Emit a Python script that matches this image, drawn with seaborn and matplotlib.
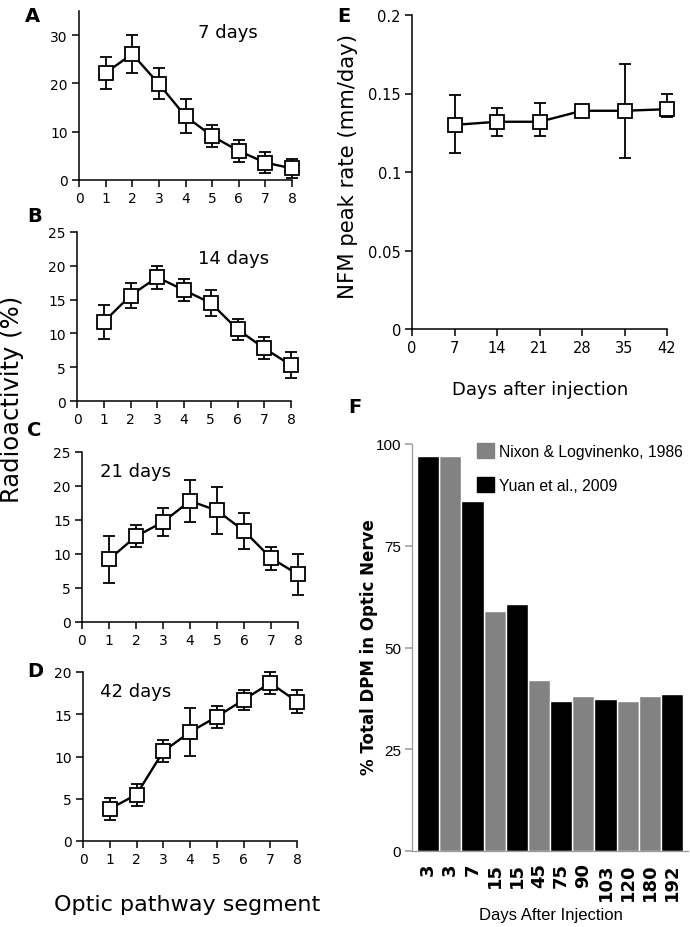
### Radioactivity profiles along the optic pathway (A-D), NFM peak rate (E) and % DPM in optic nerve (F)

import pandas as pd
import seaborn as sns
import matplotlib
matplotlib.use("Agg")
import matplotlib.pyplot as plt
from matplotlib.patches import Patch

# 1. Data

segments = [1, 2, 3, 4, 5, 6, 7, 8]

rad_7d = [22.2, 26.1, 19.9, 13.2, 9.1, 6.0, 3.6, 2.4]
err_7d = [3.3, 4.0, 3.2, 3.5, 2.3, 2.2, 2.2, 2.0]

rad_14d = [11.7, 15.6, 18.3, 16.4, 14.5, 10.6, 7.8, 5.3]
err_14d = [2.5, 1.9, 1.7, 1.6, 1.9, 1.6, 1.6, 1.9]

rad_21d = [9.2, 12.6, 14.7, 17.8, 16.4, 13.4, 9.4, 7.0]
err_21d = [3.4, 1.6, 2.1, 3.1, 3.4, 2.7, 1.7, 3.0]

rad_42d = [3.8, 5.5, 10.6, 12.9, 14.7, 16.7, 18.7, 16.5]
err_42d = [1.3, 1.3, 1.3, 2.8, 1.3, 1.2, 1.3, 1.4]

panel_labels = ["A", "B", "C", "D"]
day_labels = ["7 days", "14 days", "21 days", "42 days"]

days_e = [7, 14, 21, 28, 35, 42]
rate_e = [0.130, 0.132, 0.132, 0.139, 0.139, 0.140]
rate_lo = [0.018, 0.009, 0.009, 0.002, 0.030, 0.005]
rate_hi = [0.019, 0.009, 0.012, 0.002, 0.030, 0.010]

f_days = ["3", "3", "7", "15", "15", "45", "75", "90", "103", "120", "180", "192"]
f_pct = [97.0, 97.0, 86.0, 58.9, 60.7, 42.1, 36.9, 38.1, 37.3, 36.9, 38.1, 38.5]
nixon = "Nixon & Logvinenko, 1986"
yuan = "Yuan et al., 2009"
f_study = [yuan, nixon, yuan, nixon, yuan, nixon, yuan, nixon, yuan, nixon, nixon, yuan]

# 2. Figure setup (pixel based layout, 690 x 928)

sns.set_style("ticks")
plt.rcParams["font.family"] = ["DejaVu Sans"]
plt.rcParams["text.color"] = "black"
plt.rcParams["axes.labelcolor"] = "black"
plt.rcParams["axes.edgecolor"] = "black"
plt.rcParams["xtick.color"] = "black"
plt.rcParams["ytick.color"] = "black"
plt.rcParams["axes.linewidth"] = 1.1
plt.rcParams["xtick.major.width"] = 1.1
plt.rcParams["ytick.major.width"] = 1.1
plt.rcParams["xtick.major.size"] = 5
plt.rcParams["ytick.major.size"] = 5

W, H = 690, 928
fig = plt.figure(figsize=(W / 100, H / 100), dpi=100)


def px_axes(left, top, right, bottom):
    return fig.add_axes([left / W, 1 - bottom / H, (right - left) / W, (bottom - top) / H])


def profile(ax, y, err, ylim, yticks):
    ax.errorbar(segments, y, yerr=err, fmt="none", ecolor="black", elinewidth=1.3,
                capsize=4.5, capthick=1.3, zorder=2, clip_on=False)
    sns.lineplot(x=segments, y=y, ax=ax, color="black", lw=1.7, marker="s", markersize=9.5,
                 markerfacecolor="white", markeredgecolor="black", markeredgewidth=1.3,
                 zorder=3, clip_on=False)
    ax.set_xlim(0, 8)
    ax.set_ylim(*ylim)
    ax.set_xticks(range(9))
    ax.set_yticks(yticks)
    ax.tick_params(labelsize=10, pad=3)
    ax.set_xlabel("")
    ax.set_ylabel("")
    sns.despine(ax=ax)


# 3. Panels A-D
boxes = [(79, 12, 292, 181), (77, 233, 291, 402), (82, 453, 298, 623), (83, 673, 297, 842)]
series = [(rad_7d, err_7d), (rad_14d, err_14d), (rad_21d, err_21d), (rad_42d, err_42d)]
lims = [(0, 35), (0, 25), (0, 25), (0, 20)]
ticks = [[0, 10, 20, 30], [0, 5, 10, 15, 20, 25], [0, 5, 10, 15, 20, 25], [0, 5, 10, 15, 20]]
text_pos = [(0.56, 0.93), (0.565, 0.9), (0.083, 0.94), (0.08, 0.94)]
letter_pos = [(25, 7), (27, 207), (27, 421), (27, 662)]

for box, (y, err), lim, tk, tp, lab, lp, pl in zip(boxes, series, lims, ticks, text_pos,
                                                     day_labels, letter_pos, panel_labels):
    ax = px_axes(*box)
    profile(ax, y, err, lim, tk)
    ax.text(tp[0], tp[1], lab, transform=ax.transAxes, fontsize=13, ha="left", va="top")
    fig.text(lp[0] / W, 1 - lp[1] / H, pl, fontsize=14, fontweight="bold", ha="left", va="top")

fig.text(12 / W, 1 - 399 / H, "Radioactivity (%)", rotation=90, fontsize=17.5,
         ha="center", va="center")
fig.text(187 / W, 1 - 905 / H, "Optic pathway segment", fontsize=16, ha="center", va="center")

# 4. Panel E
ax_e = px_axes(412, 16, 667, 330)
ax_e.errorbar(days_e, rate_e, yerr=[rate_lo, rate_hi], fmt="none", ecolor="black",
              elinewidth=1.3, capsize=4.5, capthick=1.3, zorder=2, clip_on=False)
sns.lineplot(x=days_e, y=rate_e, ax=ax_e, color="black", lw=1.7, marker="s", markersize=9.5,
             markerfacecolor="white", markeredgecolor="black", markeredgewidth=1.3,
             zorder=3, clip_on=False)
ax_e.set_xlim(0, 42)
ax_e.set_ylim(0, 0.2)
ax_e.set_xticks([0, 7, 14, 21, 28, 35, 42])
ax_e.set_yticks([0, 0.05, 0.1, 0.15, 0.2])
ax_e.set_yticklabels(["0", "0.05", "0.1", "0.15", "0.2"])
ax_e.tick_params(labelsize=10.5, pad=3)
sns.despine(ax=ax_e)
fig.text(337 / W, 1 - 7 / H, "E", fontsize=14, fontweight="bold", ha="left", va="top")
fig.text(540 / W, 1 - 390 / H, "Days after injection", fontsize=13, ha="center", va="center")
fig.text(348 / W, 1 - 166 / H, "NFM peak rate (mm/day)", rotation=90, fontsize=15.3,
         ha="center", va="center")

# 5. Panel F
gray = "#828282"
df_f = pd.DataFrame({"pos": range(len(f_pct)), "pct": f_pct, "study": f_study})
ax_f = px_axes(412, 445, 688, 852)
sns.barplot(data=df_f, x="pos", y="pct", hue="study", hue_order=[nixon, yuan],
            palette={nixon: gray, yuan: "black"}, dodge=False, width=1.0, saturation=1,
            ax=ax_f)
ax_f.set_xlim(-0.725, 11.72)
ax_f.set_ylim(0, 100)
ax_f.set_yticks([0, 25, 50, 75, 100])
ax_f.set_xticks(range(len(f_days)))
ax_f.set_xticklabels(f_days, rotation=90, fontsize=13, fontweight="bold")
for t in ax_f.get_yticklabels():
    t.set_family(["Liberation Sans"])
    t.set_fontsize(11)
ax_f.tick_params(axis="x", length=0, pad=8)
ax_f.tick_params(axis="y", color="#999999", labelcolor="black", pad=3)
for s in ["left", "bottom"]:
    ax_f.spines[s].set_color("#999999")
    ax_f.spines[s].set_linewidth(0.9)
sns.despine(ax=ax_f)
ax_f.set_xlabel("")
ax_f.set_ylabel("")
ax_f.legend(handles=[Patch(color=gray, label=nixon), Patch(color="black", label=yuan)],
            loc="upper left", bbox_to_anchor=(477 / W, 1 - 444 / H), bbox_transform=fig.transFigure,
            frameon=False, prop={"family": "Liberation Sans", "size": 11.3},
            handlelength=1.08, handleheight=1.08, labelspacing=1.15, handletextpad=0.35,
            borderpad=0, borderaxespad=0)
fig.text(348 / W, 1 - 398 / H, "F", fontsize=14, fontweight="bold", ha="left", va="top")
fig.text(369 / W, 1 - 647 / H, "% Total DPM in Optic Nerve", rotation=90, fontsize=12,
         fontweight="bold", ha="center", va="center")
fig.text(551 / W, 1 - 916 / H, "Days After Injection", fontsize=12,
         family=["Liberation Sans"], ha="center", va="center")

fig.savefig("out.png", dpi=100)
